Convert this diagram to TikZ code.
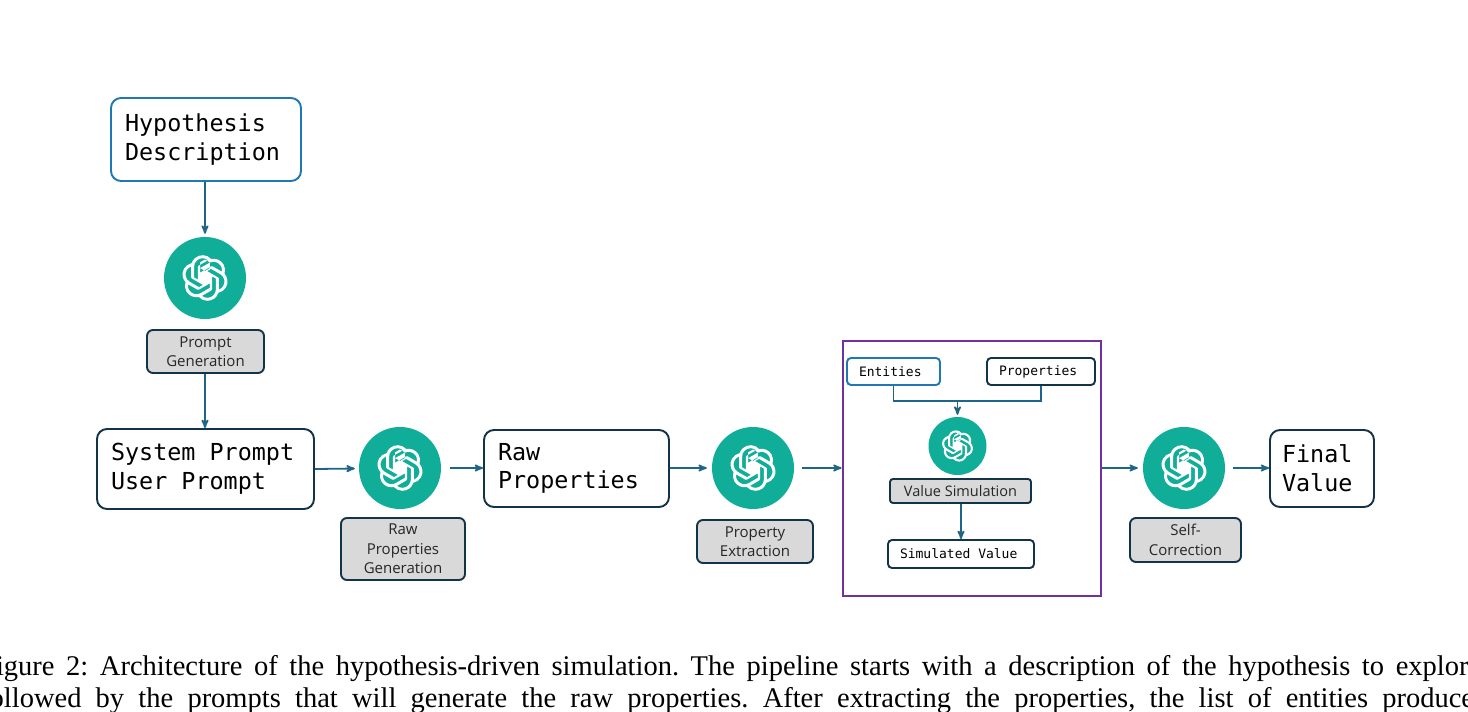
\documentclass[tikz,border=0pt]{standalone}
\usepackage{fontspec}
\setmainfont{Liberation Serif}
\setsansfont{Open Sans}
\setmonofont{DejaVu Sans Mono}
\usetikzlibrary{arrows,svg.path}
\definecolor{gptteal}{HTML}{10AD99}
\definecolor{edgenavy}{HTML}{12344A}
\definecolor{edgeblue}{HTML}{1F78B4}
\definecolor{linkblue}{HTML}{1F6585}
\definecolor{framepurple}{HTML}{7030A0}
\definecolor{labelgray}{HTML}{D9D9D9}

\begin{document}
\begin{tikzpicture}[
  x=1pt,y=-1pt,
  databox/.style={draw=edgenavy,line width=1.9pt,rounded corners=10pt,fill=white,inner sep=0pt,
    align=flush left,font=\ttfamily\fontsize{23.4}{28.6}\selectfont},
  inputbox/.style={databox,draw=edgeblue},
  smallbox/.style={databox,rounded corners=4pt,font=\ttfamily\fontsize{13}{16}\selectfont},
  smallinput/.style={smallbox,draw=edgeblue},
  tagbox/.style={draw=edgenavy,line width=1.9pt,rounded corners=6pt,fill=labelgray,inner sep=0pt,
    align=center,text=black!85,font=\sffamily\fontsize{15}{19.5}\selectfont},
  gptnode/.style={circle,fill=gptteal,inner sep=0pt,minimum size=82pt},
  gptsmall/.style={gptnode,minimum size=58pt},
  simframe/.style={draw=framepurple,line width=2.8pt,inner sep=0pt},
  caption/.style={anchor=base west,inner sep=0pt,font=\frenchspacing\fontsize{28.5}{32}\selectfont},
  to/.style={->,>=stealth',draw=linkblue,line width=1.8pt},
  gptknot/.pic={
    \fill[white,even odd rule,yscale=-1,xshift=-12pt,yshift=-12pt] svg {M22.2819 9.8211a5.9847 5.9847 0 0 0-.5157-4.9108 6.0462 6.0462 0 0 0-6.5098-2.9A6.0651 6.0651 0 0 0 4.9807 4.1818a5.9847 5.9847 0 0 0-3.9977 2.9 6.0462 6.0462 0 0 0 .7427 7.0966 5.98 5.98 0 0 0 .511 4.9107 6.051 6.051 0 0 0 6.5146 2.9001A5.9847 5.9847 0 0 0 13.2599 24a6.0557 6.0557 0 0 0 5.7718-4.2058 5.9894 5.9894 0 0 0 3.9977-2.9001 6.0557 6.0557 0 0 0-.7475-7.0729zm-9.022 12.6081a4.4755 4.4755 0 0 1-2.8764-1.0408l.1419-.0804 4.7783-2.7582a.7948.7948 0 0 0 .3927-.6813v-6.7369l2.02 1.1686a.071.071 0 0 1 .038.052v5.5826a4.504 4.504 0 0 1-4.4945 4.4944zm-9.6607-4.1254a4.4708 4.4708 0 0 1-.5346-3.0137l.142.0852 4.783 2.7582a.7712.7712 0 0 0 .7806 0l5.8428-3.3685v2.3324a.0804.0804 0 0 1-.0332.0615L9.74 19.9502a4.4992 4.4992 0 0 1-6.1408-1.6464zM2.3408 7.8956a4.485 4.485 0 0 1 2.3655-1.9728V11.6a.7664.7664 0 0 0 .3879.6765l5.8144 3.3543-2.0201 1.1685a.0757.0757 0 0 1-.071 0l-4.8303-2.7865A4.504 4.504 0 0 1 2.3408 7.872zm16.5963 3.8558L13.1038 8.364 15.1192 7.2a.0757.0757 0 0 1 .071 0l4.8303 2.7913a4.4944 4.4944 0 0 1-.6765 8.1042v-5.6772a.79.79 0 0 0-.407-.667zm2.0107-3.0231l-.142-.0852-4.7735-2.7818a.7759.7759 0 0 0-.7854 0L9.409 9.2297V6.8974a.0662.0662 0 0 1 .0284-.0615l4.8303-2.7866a4.4992 4.4992 0 0 1 6.6802 4.66zM8.3065 12.863l-2.02-1.1638a.0804.0804 0 0 1-.038-.0567V6.0742a4.4992 4.4992 0 0 1 7.3757-3.4537l-.142.0805L8.704 5.459a.7948.7948 0 0 0-.3927.6813zm1.0976-2.3654l2.602-1.4998 2.6069 1.4998v2.9994l-2.5974 1.4997-2.6067-1.4997Z};
  }]
  \clip (0,0) rectangle (1468,712);
  \fill[white] (0,0) rectangle (1468,712);

  % Input side, top left
  \node[inputbox,minimum width=190pt,minimum height=83pt,text width=162pt] (HypDesc) at (206,139.5) {
      Hypothesis\\Description};
  \node[gptnode] (GptPrompt) at (205,278) {};
  \pic[scale=1.9] at (GptPrompt) {gptknot};
  \node[tagbox,minimum width=117pt,minimum height=43pt] (TagPrompt) at (205.5,351.5) {
      Prompt\\Generation};

  % Main row
  \node[databox,minimum width=217pt,minimum height=80pt,text width=189pt] (SysPrompt) at (205.5,469) {
      System Prompt\\User Prompt};
  \node[gptnode] (GptRaw) at (400,468) {};
  \pic[scale=1.9] at (GptRaw) {gptknot};
  \node[tagbox,minimum width=124pt,minimum height=62pt] (TagRaw) at (403,549) {
      Raw\\Properties\\Generation};
  \node[databox,minimum width=185pt,minimum height=77pt,text width=157pt] (RawProps) at (576.5,468.5) {
      Raw\\Properties};
  \node[gptnode] (GptExtract) at (753,468) {};
  \pic[scale=1.9] at (GptExtract) {gptknot};
  \node[tagbox,minimum width=116pt,minimum height=43pt] (TagExtract) at (755,541.5) {
      Property\\Extraction};
  \node[gptnode] (GptCorrect) at (1184,468) {};
  \pic[scale=1.9] at (GptCorrect) {gptknot};
  \node[tagbox,minimum width=111pt,minimum height=44pt] (TagCorrect) at (1185.5,540) {
      Self-\\Correction};
  \node[databox,minimum width=104pt,minimum height=77pt,text width=80pt] (FinalVal) at (1322,468.5) {
      Final\\Value};

  % Simulation block
  \node[simframe,minimum width=258pt,minimum height=255pt] (SimFrame) at (972,468.5) {};
  \node[smallinput,minimum width=93pt,minimum height=27pt,text width=69pt] (Entities) at (893.5,371.5) {Entities};
  \node[smallbox,minimum width=108pt,minimum height=27pt,text width=84pt] (Properties) at (1041,371.5) {Properties};
  \node[gptsmall] (GptValue) at (957.5,446) {};
  \pic[scale=1.3] at (GptValue) {gptknot};
  \node[tagbox,rounded corners=3pt,minimum width=141pt,minimum height=24pt,
        font=\sffamily\fontsize{14.5}{18}\selectfont] (TagValue) at (960.5,491) {
      Value Simulation};
  \node[smallbox,minimum width=146pt,minimum height=28pt,text width=122pt] (SimValue) at (961,554) {Simulated Value};
  \coordinate (SimJoin) at (957.5,401);

  % Arrows between the nodes
  \draw[to,shorten >=3pt] (HypDesc.south -| GptPrompt) -- (GptPrompt);
  \draw[to] (TagPrompt.south -| GptPrompt) -- (SysPrompt.north -| GptPrompt);
  \draw[to,shorten >=4pt] (SysPrompt.east) -- (GptRaw);
  \draw[to,shorten <=9pt] (GptRaw) -- (RawProps.west |- GptRaw);
  \draw[to,shorten >=5pt] (RawProps.east |- GptExtract) -- (GptExtract);
  \draw[to,shorten <=8pt] (GptExtract) -- (SimFrame.west |- GptExtract);
  \draw[to,shorten >=5pt] (SimFrame.east |- GptCorrect) -- (GptCorrect);
  \draw[to,shorten <=8pt] (GptCorrect) -- (FinalVal.west |- GptCorrect);
  \draw[draw=linkblue,line width=1.8pt] (Entities.south) |- (SimJoin) -| (Properties.south);
  \draw[to,shorten >=2pt] (SimJoin) -- (GptValue);
  \draw[to] (TagValue.south -| SimValue) -- (SimValue);

  % Caption, cut by the page edge
  \node[caption] (CaptionA) at (-20,675) {\hbox to 1508pt{Figure 2: Architecture of the hypothesis-driven simulation. The pipeline starts with a description of the hypothesis to explore,}};
  \node[caption] (CaptionB) at (-20,707) {\hbox to 1508pt{followed by the prompts that will generate the raw properties. After extracting the properties, the list of entities produced}};
\end{tikzpicture}
\end{document}
